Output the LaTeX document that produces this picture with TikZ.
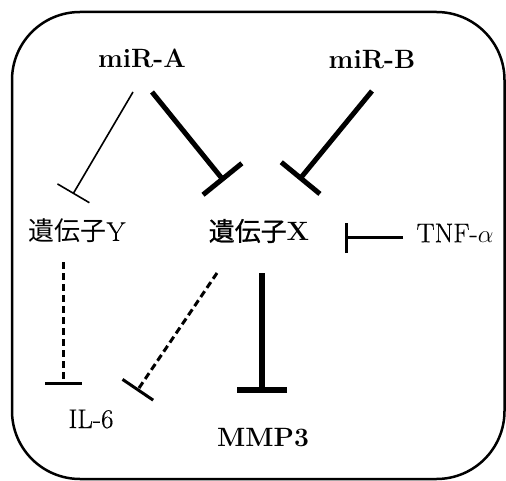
\documentclass[tikz,border=0pt]{standalone}
\usepackage{fontspec}
\newfontfamily\cjk{Noto Sans CJK JP}
\newfontfamily\cjkb[FakeBold=0.8]{Noto Sans CJK JP}
\newfontfamily\rmheavy[FakeBold=0.4]{Latin Modern Roman}
\usetikzlibrary{arrows.meta}
\begin{document}
\begin{tikzpicture}[x=1pt,y=-1pt,
  lbl/.style={inner sep=0pt,font=\fontsize{27}{30}\selectfont\rmheavy},
  blbl/.style={inner sep=0pt,font=\fontsize{26.5}{30}\selectfont\bfseries},
  thin inh/.style={line width=1.6pt,-{Bar[width=37pt]}},
  thick inh/.style={line width=5pt,-{Bar[width=50pt]}},
  mid inh/.style={line width=3pt,-{Bar[width=30pt]}},
  dash inh/.style={line width=3pt,dash pattern=on 7pt off 4pt,-{Bar[width=37pt]}},
  big inh/.style={line width=6.5pt,-{Bar[width=50pt]}},
  frame/.style={line width=2.5pt,rounded corners=68pt}]
\useasboundingbox (0,0) rectangle (506,481);
\draw[frame] (12,12) rectangle (504.5,479);
% nodes
\node[blbl] (miRA) at (142,58) {miR-A};
\node[blbl] (miRB) at (372,60) {miR-B};
\node[lbl] (geneY) at (77,231) {{\fontsize{26}{30}\selectfont\cjk 遺伝子}Y};
\node[blbl] (geneX) at (259,231) {{\fontsize{26}{30}\selectfont\cjkb\mdseries 遺伝子}X};
\node[lbl] (tnf) at (455,233) {TNF-$\alpha$};
\node[lbl] (il6) at (91,419) {IL-6};
\node[blbl] (mmp3) at (263,438) {MMP3};
% connector end points
\coordinate (a1) at (133,92);  \coordinate (a2) at (73,194);
\coordinate (b1) at (152,92);  \coordinate (b2) at (224,181);
\coordinate (c1) at (372,91);  \coordinate (c2) at (299,180);
\coordinate (d1) at (403,238); \coordinate (d2) at (345,238);
\coordinate (e1) at (63,262);  \coordinate (e2) at (63,385);
\coordinate (f1) at (217,273); \coordinate (f2) at (137,391);
\coordinate (g1) at (262,273); \coordinate (g2) at (262,393);
% connectors
\draw[thin inh] (a1) -- (a2);
\draw[thick inh] (b1) -- (b2);
\draw[thick inh] (c1) -- (c2);
\draw[mid inh] (d1) -- (d2);
\draw[dash inh] (e1) -- (e2);
\draw[dash inh] (f1) -- (f2);
\draw[big inh] (g1) -- (g2);
\end{tikzpicture}
\end{document}
